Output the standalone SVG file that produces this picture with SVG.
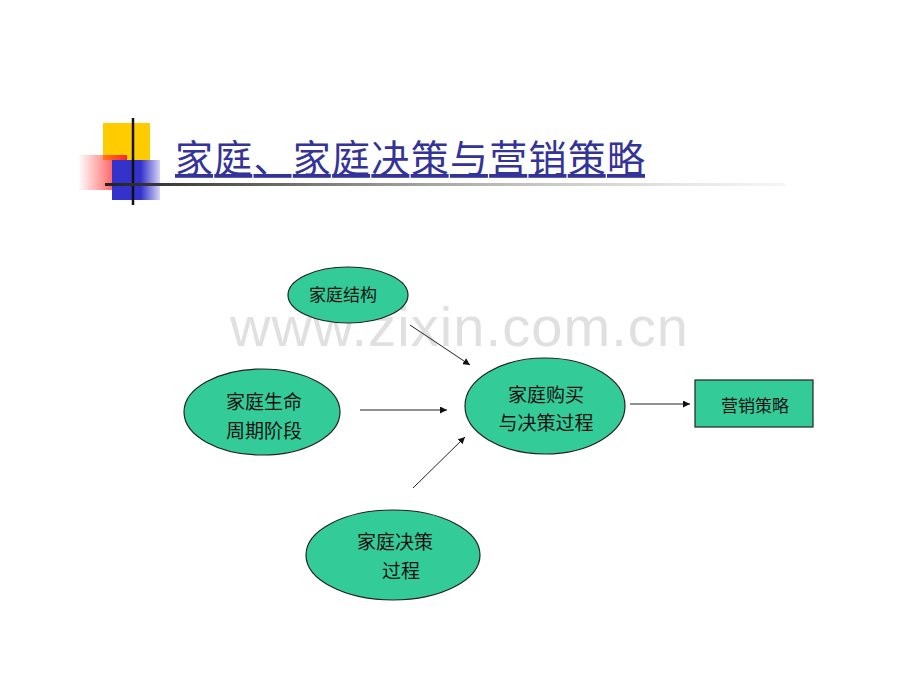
<svg xmlns="http://www.w3.org/2000/svg" width="920" height="690" viewBox="0 0 920 690">
<defs>
<linearGradient id="redg" x1="0" y1="0" x2="1" y2="0">
<stop offset="0" stop-color="#ff3333" stop-opacity="0"/>
<stop offset="1" stop-color="#ff2222"/>
</linearGradient>
<linearGradient id="blueg" x1="0" y1="0" x2="1" y2="0">
<stop offset="0" stop-color="#3333cc"/>
<stop offset="0.6" stop-color="#3333cc"/>
<stop offset="1" stop-color="#3333cc" stop-opacity="0.2"/>
</linearGradient>
<linearGradient id="lineg" x1="0" y1="0" x2="1" y2="0">
<stop offset="0" stop-color="#222"/>
<stop offset="0.3" stop-color="#777"/>
<stop offset="1" stop-color="#ddd" stop-opacity="0.3"/>
</linearGradient>
<marker id="arr" viewBox="0 0 10 10" refX="10" refY="5" markerWidth="7" markerHeight="7" orient="auto" markerUnits="userSpaceOnUse">
<path d="M0,0 L10,5 L0,10 z" fill="#111"/>
</marker>
<style>
.node{fill:#33cc99;stroke:#222;stroke-width:1.2}
.t{font-family:"Noto Sans CJK SC","Noto Sans",sans-serif;fill:#111;text-anchor:middle}
.c{stroke:#222;stroke-width:1;fill:none;marker-end:url(#arr)}
</style>
</defs>
<rect width="920" height="690" fill="#fff"/>
<g id="title-deco">
<rect x="103" y="123" width="47" height="37" fill="#ffcc00"/>
<rect x="78" y="155" width="49" height="35" fill="url(#redg)"/>
<rect x="112" y="160" width="48" height="40" fill="url(#blueg)"/>
<line x1="133" y1="118" x2="133" y2="205" stroke="#111" stroke-width="2.5"/>
<rect x="105" y="183" width="680" height="3" fill="url(#lineg)"/>
</g>
<text x="175" y="172" font-family="'Noto Sans CJK SC',sans-serif" font-size="38" fill="#333399" text-decoration="underline" textLength="470">家庭、家庭决策与营销策略</text>
<text x="230" y="346" font-family="'Liberation Sans',Arial,sans-serif" font-size="56" fill="#d8d8d8" fill-opacity="0.8" textLength="458">www.zixin.com.cn</text>
<g id="connectors">
<line class="c" x1="410" y1="325" x2="470" y2="365"/>
<line class="c" x1="360" y1="410" x2="447" y2="410"/>
<line class="c" x1="413" y1="488" x2="465" y2="437"/>
<line class="c" x1="630" y1="404" x2="690" y2="404"/>
</g>
<g id="n1">
<ellipse class="node" cx="348" cy="295" rx="60" ry="28"/>
<text class="t" x="343" y="301" font-size="17">家庭结构</text>
</g>
<g id="n2">
<ellipse class="node" cx="262" cy="412" rx="78" ry="43"/>
<text class="t" x="264" y="409" font-size="19">家庭生命</text>
<text class="t" x="264" y="438" font-size="19">周期阶段</text>
</g>
<g id="n3">
<ellipse class="node" cx="545" cy="406" rx="80" ry="48"/>
<text class="t" x="546" y="402" font-size="19">家庭购买</text>
<text class="t" x="546" y="430" font-size="19">与决策过程</text>
</g>
<g id="n4">
<rect class="node" x="695" y="380" width="118" height="47"/>
<text class="t" x="755" y="412" font-size="17">营销策略</text>
</g>
<g id="n5">
<ellipse class="node" cx="393" cy="555" rx="87" ry="45"/>
<text class="t" x="395" y="549" font-size="19">家庭决策</text>
<text class="t" x="401" y="578" font-size="19">过程</text>
</g>
</svg>
